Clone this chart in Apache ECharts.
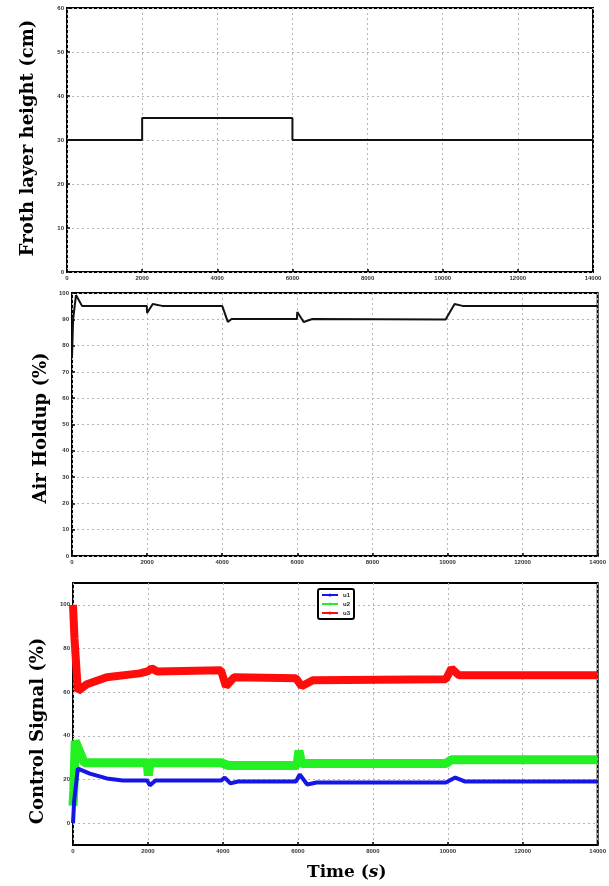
<!DOCTYPE html>
<html><head><meta charset="utf-8">
<script src="https://cdn.jsdelivr.net/npm/echarts@6/dist/echarts.min.js"></script>
<style>html,body{margin:0;padding:0;background:#fff}#c{width:609px;height:886px}</style>
</head><body><div id="c"></div>
<script>
// ---- data ----
const frothTicks = [0, 10, 20, 30, 40, 50, 60];
const holdupTicks = [0, 10, 20, 30, 40, 50, 60, 70, 80, 90, 100];
const ctrlTicks = [0, 20, 40, 60, 80, 100];
const frothT = [0, 2000, 2000, 6000, 6000, 14000];
const frothV = [30, 30, 35, 35, 30, 30];
const holdupT = [0, 30, 106, 266, 1990, 2000, 2150, 2400, 4000, 4150, 4250, 5990, 6000, 6170, 6400, 9950, 10190, 10400, 14000];
const holdupV = [75.3, 90, 99.2, 95.1, 95.1, 92.4, 95.8, 95.1, 95.1, 89.0, 90.1, 90.1, 92.8, 89.0, 90.1, 89.9, 95.8, 95.1, 95.1];
const redT = [0, 40, 130, 370, 900, 1780, 1990, 2100, 2250, 3950, 4080, 4300, 5950, 6100, 6400, 9950, 10100, 10300, 14000];
const redV = [100, 84.5, 60.5, 63.6, 66.8, 68.6, 69.5, 70.9, 69.5, 70, 62.7, 66.8, 66.4, 62.7, 65.5, 65.9, 70.9, 67.7, 67.7];
const greenT = [0, 20, 60, 300, 1980, 2010, 2050, 3950, 4150, 5980, 6030, 6100, 9950, 10100, 14000];
const greenV = [8, 15, 37.7, 27.7, 27.7, 21.8, 27.7, 27.7, 26.4, 26.4, 33.2, 27.3, 27.3, 29.1, 29.1];
const blueT = [0, 30, 130, 450, 900, 1330, 1980, 2050, 2200, 3950, 4050, 4200, 4400, 5950, 6050, 6250, 6500, 9950, 10000, 10200, 10450, 14000];
const blueV = [0, 10, 25, 22.7, 20.5, 19.5, 19.5, 17.3, 19.5, 19.5, 20.9, 18.2, 19.1, 19.1, 22.3, 17.7, 18.6, 18.6, 17.7, 20.9, 19.1, 19.1];
const legendNames = ['u1', 'u2', 'u3'];
const yTitles = ['Froth layer height (cm)', 'Air Holdup (%)', 'Control Signal (%)'];

const zip = (t, v) => t.map((x, i) => [x, v[i]]);
const gridColor = '#b5b5b5';
const gridLine = { show: true, lineStyle: { color: gridColor, type: [2, 3], width: 1 } };
const tickLbl = { fontSize: 6, fontWeight: 'bold', color: '#333', margin: 3 };
const tickStyle = { show: true, inside: true, length: 3, lineStyle: { color: '#000', width: 1.5 } };

function xAx(gi) {
  return {
    type: 'value', gridIndex: gi, min: 0, max: 14000, interval: 2000,
    axisLine: { show: false, onZero: false }, axisTick: tickStyle,
    axisLabel: Object.assign({}, tickLbl, { formatter: v => String(v) }), splitLine: gridLine
  };
}
function yAx(gi, min, max, interval, opts) {
  return Object.assign({
    type: 'value', gridIndex: gi, min, max, interval,
    axisLine: { show: false, onZero: false }, axisTick: tickStyle,
    axisLabel: Object.assign({}, tickLbl, { formatter: v => String(v) }), splitLine: gridLine
  }, opts || {});
}
const box = { show: true, borderColor: '#000', borderWidth: 2, backgroundColor: 'transparent' };
const titleStyle = { fontFamily: 'DejaVu Serif', fontWeight: 'bold', fontSize: 18, fill: '#000', align: 'center', verticalAlign: 'middle' };
function vTitle(text, x, y) {
  return { type: 'text', x, y, rotation: Math.PI / 2, style: Object.assign({ text }, titleStyle) };
}

const chart = echarts.init(document.getElementById('c'), null, { renderer: 'canvas' });
chart.setOption({
  backgroundColor: '#fff',
  animation: false,
  grid: [
    Object.assign({ left: 67, top: 8, width: 526, height: 264 }, box),
    Object.assign({ left: 72, top: 293, width: 526, height: 263 }, box),
    Object.assign({ left: 73, top: 583, width: 528, height: 262 }, box)
  ],
  xAxis: [xAx(0), xAx(1), xAx(2)],
  yAxis: [
    yAx(0, frothTicks[0], frothTicks[frothTicks.length - 1], 10),
    yAx(1, holdupTicks[0], holdupTicks[holdupTicks.length - 1], 10),
    yAx(2, -10, 110, 10, {
      axisTick: { show: false },
      splitLine: { show: false },
      axisLabel: Object.assign({}, tickLbl, { formatter: v => ctrlTicks.indexOf(v) >= 0 ? String(v) : '' })
    })
  ],
  legend: {
    left: 318, top: 589, orient: 'vertical', itemWidth: 16, itemHeight: 4, itemGap: 3,
    padding: [3, 4, 3, 3], borderColor: '#000', borderWidth: 2, borderRadius: 2, backgroundColor: '#fff',
    textStyle: { fontSize: 6, color: '#222', fontWeight: 'bold' },
    data: legendNames
  },
  graphic: [
    vTitle(yTitles[0], 28, 138),
    vTitle(yTitles[1], 41, 428),
    vTitle(yTitles[2], 38, 731),
    {
      type: 'text', left: 307, top: 864,
      style: {
        text: '{a|Time (}{b|s}{a|)}',
        rich: {
          a: { fontFamily: 'DejaVu Serif', fontWeight: 'bold', fontSize: 17, fill: '#000' },
          b: { fontFamily: 'DejaVu Serif', fontWeight: 'bold', fontStyle: 'italic', fontSize: 17, fill: '#000' }
        }
      }
    }
  ],
  series: [
    { type: 'line', xAxisIndex: 0, yAxisIndex: 0, data: zip(frothT, frothV), showSymbol: false, lineStyle: { color: '#111', width: 2 }, itemStyle: { color: '#111' } },
    { type: 'line', xAxisIndex: 1, yAxisIndex: 1, data: zip(holdupT, holdupV), showSymbol: false, lineStyle: { color: '#111', width: 2 }, itemStyle: { color: '#111' } },
    {
      type: 'line', xAxisIndex: 2, yAxisIndex: 2, data: [], silent: true,
      markLine: {
        z: 1, silent: true, symbol: ['none', 'none'], label: { show: false }, animation: false,
        lineStyle: { color: gridColor, type: [2, 3], width: 1 },
        data: ctrlTicks.map(v => ({ yAxis: v }))
      }
    },
    { name: legendNames[2], type: 'line', xAxisIndex: 2, yAxisIndex: 2, data: zip(redT, redV), symbol: 'circle', symbolSize: 4, showSymbol: false, lineStyle: { color: '#ff0d0d', width: 8 }, itemStyle: { color: '#ff0d0d' } },
    { name: legendNames[1], type: 'line', xAxisIndex: 2, yAxisIndex: 2, data: zip(greenT, greenV), symbol: 'circle', symbolSize: 4, showSymbol: false, lineStyle: { color: '#22f022', width: 9 }, itemStyle: { color: '#22f022' } },
    { name: legendNames[0], type: 'line', xAxisIndex: 2, yAxisIndex: 2, data: zip(blueT, blueV), symbol: 'circle', symbolSize: 4, showSymbol: false, lineStyle: { color: '#1515e6', width: 4 }, itemStyle: { color: '#1515e6' } }
  ]
});
</script></body></html>
